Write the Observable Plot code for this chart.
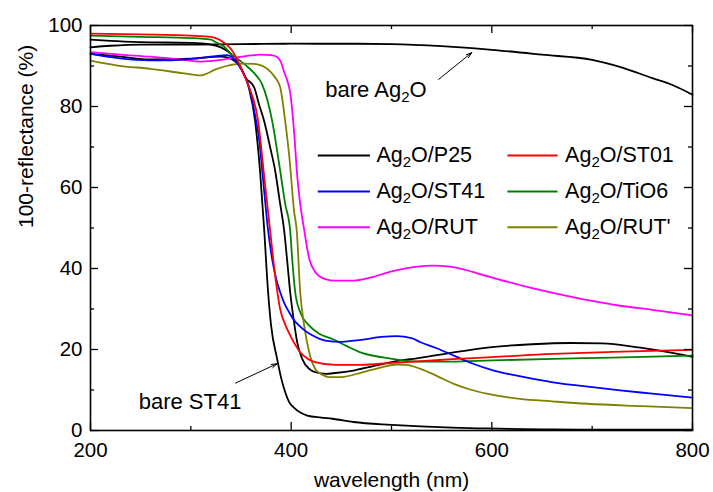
<!DOCTYPE html>
<html><head><meta charset="utf-8">
<script src="https://cdn.jsdelivr.net/npm/d3@7"></script>
<script src="https://cdn.jsdelivr.net/npm/@observablehq/plot@0.6"></script>
<style>
html,body{margin:0;padding:0;background:#fff;}
#chart{width:713px;height:492px;overflow:hidden;}
</style></head><body><div id="chart"></div>
<script>
// ---- data (wavelength in nm, 100-reflectance in %) ----
const bareAg2O_wl = [200, 220, 250, 300, 350, 400, 450, 500, 550, 600, 650, 700, 711, 730, 760, 780, 800];
const bareAg2O_v  = [94.6, 95.0, 95.3, 95.3, 95.4, 95.5, 95.5, 95.4, 94.9, 94.0, 92.8, 91.5, 90.9, 89.6, 87.0, 85.3, 82.9];

const bareST41_wl = [200, 230, 260, 300, 330, 345, 352, 358, 364, 369, 373, 377, 380, 386, 390, 394, 398, 403, 410, 416, 430, 441, 462, 500, 529, 560, 595, 650, 700, 800];
const bareST41_v  = [93.0, 92.3, 91.6, 91.8, 92.3, 91.0, 88.5, 84.5, 76.5, 64.0, 50.0, 34.2, 25.9, 17.7, 13.0, 9.5, 7.0, 5.6, 4.3, 3.7, 3.2, 2.9, 2.1, 1.4, 1.0, 0.7, 0.5, 0.3, 0.2, 0.2];

const P25_wl = [200, 220, 250, 300, 320, 330, 340, 348, 355, 363, 368, 373, 379, 384, 389, 393, 396, 399, 403, 406, 411, 418, 424, 435, 444, 462, 480, 500, 530, 562, 600, 640, 678, 710, 744, 770, 800];
const P25_v  = [96.5, 96.2, 95.9, 95.7, 95.3, 94.6, 93.0, 90.5, 87.0, 84.8, 80.5, 76.5, 70.0, 64.2, 56.0, 49.4, 42.0, 34.2, 26.5, 21.8, 17.7, 15.2, 14.4, 14.0, 14.2, 14.8, 15.8, 16.9, 18.0, 19.3, 20.6, 21.3, 21.6, 21.5, 20.6, 19.6, 18.2];

const ST01_wl = [200, 250, 300, 320, 330, 340, 345, 350, 358, 367, 373, 379, 384, 389, 394, 399, 404, 409, 416, 424, 444, 470, 500, 529, 560, 600, 661, 720, 800];
const ST01_v  = [98.0, 97.8, 97.5, 97.2, 96.3, 94.2, 92.2, 89.5, 84.8, 76.5, 63.0, 49.4, 38.3, 30.0, 26.2, 23.5, 21.2, 19.3, 17.8, 16.9, 16.2, 16.2, 16.7, 17.1, 17.6, 18.1, 18.9, 19.4, 19.9];

const ST41_wl = [200, 220, 260, 280, 310, 336, 349, 358, 365, 368, 372, 377, 381, 385, 389, 393, 398, 403, 408, 414, 421, 434, 450, 470, 490, 505, 520, 529, 545, 562, 580, 602, 630, 661, 700, 728, 760, 800];
const ST41_v  = [93.0, 92.2, 91.4, 91.4, 92.0, 92.7, 89.7, 84.8, 76.5, 72.0, 62.0, 49.4, 42.4, 37.5, 34.2, 31.5, 29.2, 27.2, 25.9, 24.6, 23.5, 22.2, 21.9, 22.4, 23.1, 23.3, 22.8, 21.8, 20.3, 18.5, 16.6, 14.8, 13.3, 11.9, 10.7, 9.9, 9.1, 8.1];

const TiO6_wl = [200, 250, 300, 320, 324, 333, 340, 348, 357, 364, 371, 381, 389, 394, 399, 401, 404, 409, 418, 428, 441, 455, 469, 490, 509, 530, 560, 600, 661, 720, 800];
const TiO6_v  = [97.5, 97.2, 96.9, 96.5, 96.0, 94.8, 93.0, 91.5, 89.7, 88.0, 85.5, 76.5, 64.2, 56.0, 49.4, 42.4, 34.2, 29.2, 25.9, 23.9, 22.6, 20.9, 19.3, 18.1, 17.4, 17.0, 17.0, 17.3, 17.7, 18.0, 18.5];

const RUT_wl = [200, 230, 260, 290, 310, 330, 343, 360, 369, 380, 386, 390, 393, 396, 399, 403, 406, 409, 413, 418, 424, 434, 444, 462, 480, 500, 520, 540, 560, 595, 630, 661, 700, 728, 760, 800];
const RUT_v  = [93.4, 92.8, 92.3, 91.6, 91.1, 91.5, 92.0, 92.6, 92.8, 92.7, 92.2, 90.8, 88.5, 86.5, 83.5, 73.5, 63.0, 56.0, 49.5, 42.4, 39.1, 37.4, 37.0, 37.0, 37.8, 39.3, 40.3, 40.7, 40.4, 38.1, 35.8, 34.0, 32.0, 30.8, 29.8, 28.4];

const RUTp_wl = [200, 227, 260, 293, 310, 326, 343, 352, 363, 376, 383, 389, 394, 398, 403, 405.5, 409, 413, 418, 424, 431, 438, 450, 470, 490, 505, 515, 529, 545, 562, 580, 595, 628, 660, 695, 750, 800];
const RUTp_v  = [91.3, 90.1, 89.3, 88.2, 87.7, 89.3, 90.4, 90.6, 90.5, 89.3, 87.5, 84.8, 76.5, 68.0, 54.0, 49.5, 34.2, 25.9, 19.3, 15.2, 13.8, 13.2, 13.2, 14.3, 15.6, 16.3, 16.2, 15.2, 13.5, 11.5, 10.0, 9.1, 7.8, 7.2, 6.6, 6.0, 5.5];

const xMajor = [200, 400, 600, 800];
const xMinor = [300, 500, 700];
const yMajor = [0, 20, 40, 60, 80, 100];
const yMinor = [10, 30, 50, 70, 90];

const legendNames = ["Ag2O/P25", "Ag2O/ST01", "Ag2O/ST41", "Ag2O/TiO6", "Ag2O/RUT", "Ag2O/RUT'"];
const xLabel = "wavelength (nm)";
const yLabel = "100-reflectance (%)";

// ---- styling / layout ----
const series = [
  {name: "bare Ag2O", wl: bareAg2O_wl, v: bareAg2O_v, color: "#000000"},
  {name: "bare ST41", wl: bareST41_wl, v: bareST41_v, color: "#000000"},
  {name: "Ag2O/P25", wl: P25_wl, v: P25_v, color: "#000000"},
  {name: "Ag2O/TiO6", wl: TiO6_wl, v: TiO6_v, color: "#008000"},
  {name: "Ag2O/RUT'", wl: RUTp_wl, v: RUTp_v, color: "#808000"},
  {name: "Ag2O/RUT", wl: RUT_wl, v: RUT_v, color: "#ff00ff"},
  {name: "Ag2O/ST41", wl: ST41_wl, v: ST41_v, color: "#0000ff"},
  {name: "Ag2O/ST01", wl: ST01_wl, v: ST01_v, color: "#ff0000"}
];
const colorOf = Object.fromEntries(series.map(s => [s.name, s.color]));

// legend layout in data space (2 columns x 3 rows)
const legendCols = [{x1: 427, x2: 479, tx: 485}, {x1: 616, x2: 666, tx: 673}];
const legendRowsY = [67.9, 59.0, 50.2];
const legend = legendNames.map((name, i) => {
  const c = legendCols[i % 2], r = legendRowsY[Math.floor(i / 2)];
  return {name, x1: c.x1, x2: c.x2, tx: c.tx, y: r, color: colorOf[name]};
});

const annotations = [
  {label: "bare Ag2O", tx: 434, ty: 84.2, ax1: 547, ay1: 86.7, ax2: 580, ay2: 93.3},
  {label: "bare ST41", tx: 248, ty: 7.0, ax1: 344.5, ay1: 11.7, ax2: 386, ay2: 16.5}
];

const W = 713, H = 492, mL = 90, mR = 21, mT = 25, mB = 62;
const plotW = W - mL - mR, plotH = H - mT - mB;
const majorLen = 8, minorLen = 4;
const font = "'Liberation Sans', Arial, Helvetica, sans-serif";

const lineMarks = series.map(s =>
  Plot.line(s.wl.map((w, i) => ({wl: w, v: s.v[i]})), {
    x: "wl", y: "v", stroke: s.color, strokeWidth: 1.8, curve: "monotone-x"
  })
);

const plot = Plot.plot({
  width: W, height: H,
  marginLeft: mL, marginRight: mR, marginTop: mT, marginBottom: mB,
  style: {fontFamily: font, fontSize: "20px", background: "#fff", color: "#000"},
  x: {domain: [200, 800]},
  y: {domain: [0, 100]},
  marks: [
    ...lineMarks,
    // inward ticks on all four sides
    Plot.ruleX(xMajor, {insetTop: plotH - majorLen, stroke: "#000", strokeWidth: 1.3}),
    Plot.ruleX(xMinor, {insetTop: plotH - minorLen, stroke: "#000", strokeWidth: 1.3}),
    Plot.ruleX(xMajor, {insetBottom: plotH - majorLen, stroke: "#000", strokeWidth: 1.3}),
    Plot.ruleX(xMinor, {insetBottom: plotH - minorLen, stroke: "#000", strokeWidth: 1.3}),
    Plot.ruleY(yMajor, {insetRight: plotW - majorLen, stroke: "#000", strokeWidth: 1.3}),
    Plot.ruleY(yMinor, {insetRight: plotW - minorLen, stroke: "#000", strokeWidth: 1.3}),
    Plot.ruleY(yMajor, {insetLeft: plotW - majorLen, stroke: "#000", strokeWidth: 1.3}),
    Plot.ruleY(yMinor, {insetLeft: plotW - minorLen, stroke: "#000", strokeWidth: 1.3}),
    Plot.frame({stroke: "#000", strokeWidth: 1.6}),
    Plot.axisX({ticks: xMajor, tickSize: 0, tickPadding: 12, tickFormat: d => String(d), label: null, fontSize: 20.5}),
    Plot.axisY({ticks: yMajor, tickSize: 0, tickPadding: 8, tickFormat: d => String(d), label: null, fontSize: 20.5}),
    Plot.text([xLabel], {frameAnchor: "bottom", dy: 56, fontSize: 21, fill: "#000"}),
    Plot.text([yLabel], {frameAnchor: "left", dx: -64, rotate: -90, fontSize: 21, fill: "#000"}),
    // legend
    Plot.ruleY(legend, {y: "y", x1: "x1", x2: "x2", stroke: "color", strokeWidth: 2}),
    Plot.text(legend, {x: "tx", y: "y", text: "name", textAnchor: "start", fontSize: 21.5, fill: "#000"}),
    // annotations
    Plot.arrow(annotations, {x1: "ax1", y1: "ay1", x2: "ax2", y2: "ay2", stroke: "#000", strokeWidth: 1, headLength: 9, headAngle: 35}),
    Plot.text(annotations, {x: "tx", y: "ty", text: "label", textAnchor: "start", fontSize: 22, fill: "#000"})
  ]
});

// subscript the "2" in Ag2O
d3.select(plot).selectAll("text").each(function() {
  const targets = this.querySelectorAll("tspan").length ? Array.from(this.querySelectorAll("tspan")) : [this];
  for (const t of targets) {
    const s = t.textContent;
    if (!s.includes("Ag2O")) continue;
    const parts = s.split("Ag2O");
    t.textContent = "";
    parts.forEach((p, i) => {
      if (i === 0) { if (p) t.appendChild(document.createTextNode(p)); return; }
      t.appendChild(document.createTextNode("Ag"));
      const sub = document.createElementNS("http://www.w3.org/2000/svg", "tspan");
      sub.setAttribute("dy", "5");
      sub.setAttribute("font-size", "15");
      sub.textContent = "2";
      t.appendChild(sub);
      const rest = document.createElementNS("http://www.w3.org/2000/svg", "tspan");
      rest.setAttribute("dy", "-5");
      rest.textContent = "O" + p;
      t.appendChild(rest);
    });
  }
});

document.getElementById("chart").appendChild(plot);
</script>
</body></html>
